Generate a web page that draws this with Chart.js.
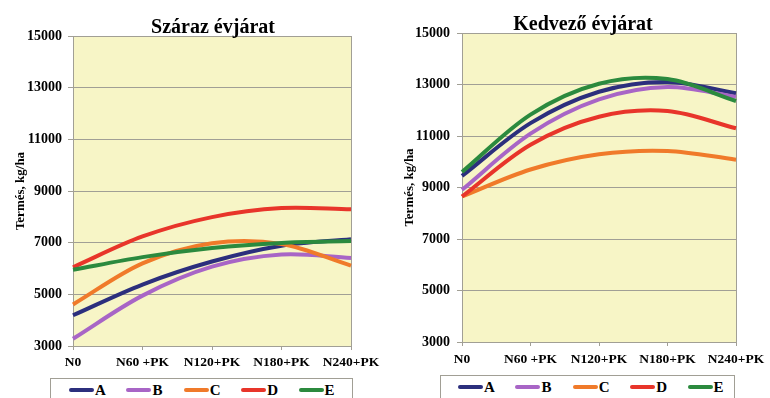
<!DOCTYPE html>
<html lang="hu">
<head>
<meta charset="utf-8">
<title>Termés, kg/ha</title>
<script src="https://cdn.jsdelivr.net/npm/chart.js@4.4.1/dist/chart.umd.min.js"></script>
<style>
  html, body { margin: 0; padding: 0; background: #ffffff; }
  body { width: 770px; height: 398px; position: relative; overflow: hidden;
         font-family: 'Liberation Serif', 'Times New Roman', serif; }
  .panel { position: absolute; top: 0; }
  canvas { display: block; }
  .title { position: absolute; transform: translateX(-50%); white-space: nowrap;
           font-weight: bold; font-size: 20px; line-height: 20px; color: #000; }
  .legend { position: absolute; box-sizing: border-box; height: 32px;
            border: 1px solid #a19f95; background: #ffffff; display: flex; }
  .item { flex: none; width: 57.4px; height: 16px; display: flex; align-items: center; }
  .swatch { width: 25px; height: 4px; border-radius: 2px; }
  .letter { font-weight: bold; font-size: 15px; line-height: 16px; color: #000; margin-left: 1px; }
</style>
</head>
<body>
<div class="panel" style="left:0"><canvas id="dryChart" width="385" height="372"></canvas></div>
<div class="panel" style="left:385px"><canvas id="favChart" width="385" height="368"></canvas></div>
<div class="title" id="dryTitle" style="left:213px; top:16px;"></div>
<div class="title" id="favTitle" style="left:583px; top:13px;"></div>
<div class="legend" id="dryLegend" style="left:50px; top:378px; width:303px; padding:2.5px 0 0 18px;"></div>
<div class="legend" id="favLegend" style="left:440px; top:375px; width:295px; padding:2.5px 0 0 17px;"></div>

<script>
// Nitrogen + PK treatments on the x axis
const categories = ['N0', 'N60 +PK', 'N120+PK', 'N180+PK', 'N240+PK'];
const seriesNames = ['A', 'B', 'C', 'D', 'E'];
const yTickValues = [3000, 5000, 7000, 9000, 11000, 13000, 15000];
const panelTitles = ['Száraz évjárat', 'Kedvező évjárat'];
const yAxisTitle = 'Termés, kg/ha';

// Yield (kg/ha), dry year
const dryA = [4190, 5380, 6270, 6880, 7130];
const dryB = [3280, 4950, 6070, 6540, 6410];
const dryC = [4610, 6200, 6980, 6950, 6110];
const dryD = [6050, 7240, 7990, 8340, 8290];
const dryE = [5950, 6440, 6790, 6990, 7060];

// Yield (kg/ha), favourable year
const favA = [9450, 11500, 12720, 13100, 12660];
const favB = [8910, 11090, 12420, 12900, 12520];
const favC = [8650, 9700, 10290, 10420, 10080];
const favD = [8650, 10660, 11750, 11970, 11300];
const favE = [9600, 11830, 13030, 13210, 12360];

const seriesColors = ['#2c2f7d', '#a865c6', '#f07a2a', '#e8352a', '#2b8a3e'];
const GRID = '#a19f95';
const PLOT_BG = '#f7f5c6';
const FONT = "'Liberation Serif', 'Times New Roman', serif";

// pale yellow plot area
const plotBg = {
  id: 'plotBg',
  beforeDraw(chart) {
    const a = chart.chartArea, ctx = chart.ctx;
    ctx.save();
    ctx.fillStyle = PLOT_BG;
    ctx.fillRect(a.left, a.top, a.right - a.left, a.bottom - a.top);
    ctx.restore();
  }
};

function makeChart(id, series, geo) {
  const last = categories.length - 1;
  return new Chart(document.getElementById(id), {
    type: 'line',
    data: {
      labels: categories,
      datasets: seriesNames.map((name, i) => ({
        label: name,
        data: series[i],
        borderColor: seriesColors[i],
        backgroundColor: seriesColors[i],
        borderWidth: 4,
        pointRadius: 0,
        pointHoverRadius: 0,
        tension: 0.33,
        fill: false,
        order: seriesNames.length - 1 - i
      }))
    },
    options: {
      responsive: false,
      animation: false,
      devicePixelRatio: 1,
      events: [],
      layout: { padding: { left: 0, right: 34, top: geo.top, bottom: 0 } },
      plugins: {
        legend: { display: false },
        tooltip: { enabled: false },
        title: { display: false }
      },
      scales: {
        x: {
          type: 'category',
          offset: false,
          border: { display: true, color: GRID, width: 1 },
          grid: {
            drawOnChartArea: true,
            color: (c) => (c.index === last ? GRID : 'rgba(0,0,0,0)'),
            tickColor: GRID,
            tickLength: 4,
            lineWidth: 1
          },
          ticks: {
            autoSkip: false, maxRotation: 0, minRotation: 0, color: '#000',
            font: { family: FONT, size: 13.5, weight: 'bold' },
            padding: geo.xPad
          },
          afterFit(s) { s.height = 26; s.paddingLeft = 0; s.paddingRight = 0; }
        },
        y: {
          min: yTickValues[0],
          max: yTickValues[yTickValues.length - 1],
          border: { display: true, color: GRID, width: 1 },
          grid: { color: GRID, tickColor: GRID, tickLength: 5, lineWidth: 1 },
          afterBuildTicks(s) { s.ticks = yTickValues.map(v => ({ value: v })); },
          ticks: {
            color: '#000',
            font: { family: FONT, size: 14, weight: 'bold' },
            padding: geo.yPad,
            callback: (v) => String(v)
          },
          title: {
            display: true, text: yAxisTitle, color: '#000',
            font: { family: FONT, size: 13, weight: 'bold', lineHeight: 1.2 },
            padding: { top: geo.yTitlePad, bottom: 0 }
          },
          afterFit(s) { s.width = geo.yWidth; s.paddingTop = 0; s.paddingBottom = 0; }
        }
      }
    },
    plugins: [plotBg]
  });
}

makeChart('dryChart', [dryA, dryB, dryC, dryD, dryE],
  { top: 36, xPad: 4, yPad: 6, yTitlePad: 13, yWidth: 73 });
makeChart('favChart', [favA, favB, favC, favD, favE],
  { top: 33, xPad: 5, yPad: 7, yTitlePad: 17, yWidth: 77 });

document.getElementById('dryTitle').textContent = panelTitles[0];
document.getElementById('favTitle').textContent = panelTitles[1];

// legends built from the series names and colours
function buildLegend(id) {
  const box = document.getElementById(id);
  seriesNames.forEach((name, i) => {
    const item = document.createElement('div');
    item.className = 'item';
    const sw = document.createElement('span');
    sw.className = 'swatch';
    sw.style.background = seriesColors[i];
    const t = document.createElement('span');
    t.className = 'letter';
    t.textContent = name;
    item.appendChild(sw);
    item.appendChild(t);
    box.appendChild(item);
  });
}
buildLegend('dryLegend');
buildLegend('favLegend');
</script>
</body>
</html>
